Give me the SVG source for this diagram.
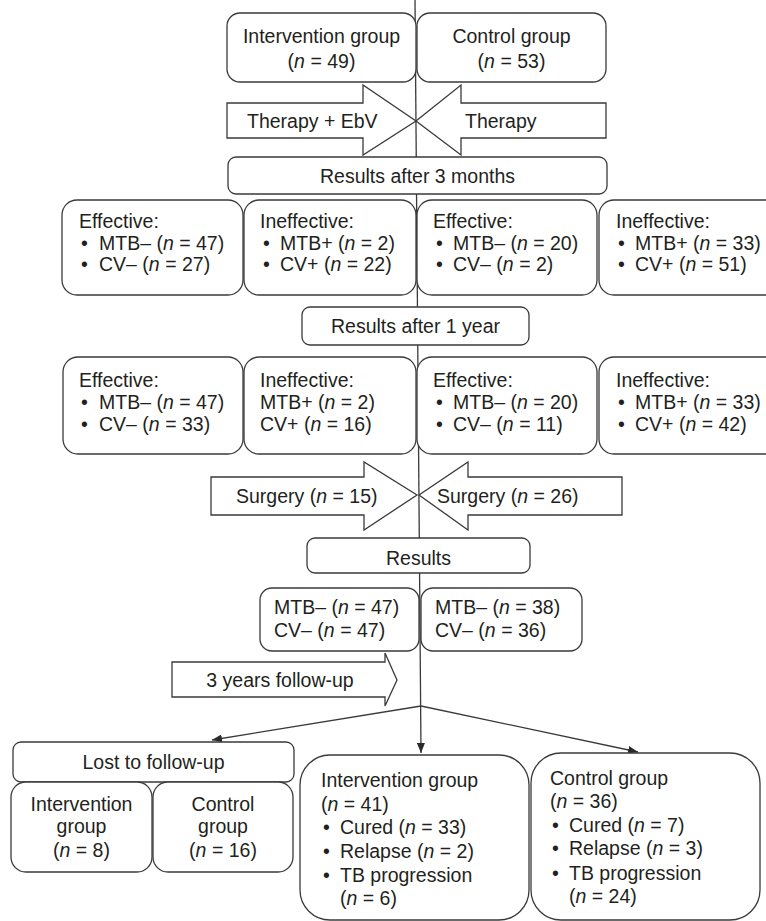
<svg xmlns="http://www.w3.org/2000/svg" width="766" height="921" viewBox="0 0 766 921">
<defs>
<style>
.b{fill:#fff;stroke:#3a3a3a;stroke-width:1.3}
.c{fill:none;stroke:#3a3a3a;stroke-width:1.3}
text{font-family:"Liberation Sans",Arial,sans-serif;font-size:19.5px;fill:#231f20}
.m{text-anchor:middle}
.i{font-style:italic}
</style>
<marker id="ah" viewBox="0 0 10 8" refX="10" refY="4" markerWidth="10" markerHeight="8" orient="auto" markerUnits="userSpaceOnUse"><path d="M0,0 L10,4 L0,8 z" fill="#2a2a2a"/></marker>
</defs>
<rect width="766" height="921" fill="#fff"/>
<g id="connectors">
<line class="c" x1="415" y1="0" x2="421" y2="753" marker-end="url(#ah)"/>
<line class="c" x1="421" y1="706" x2="212" y2="740" marker-end="url(#ah)"/>
<line class="c" x1="421" y1="706" x2="638" y2="752" marker-end="url(#ah)"/>
</g>
<g id="intervention-top"><rect class="b" x="227" y="13" width="189" height="69" rx="13"/><text class="m" x="321.5" y="43">Intervention group</text><text class="m" x="321.5" y="68">(<tspan class="i">n</tspan> = 49)</text></g>
<g id="control-top"><rect class="b" x="417" y="13" width="189" height="69" rx="13"/><text class="m" x="511.5" y="43">Control group</text><text class="m" x="511.5" y="68">(<tspan class="i">n</tspan> = 53)</text></g>
<g id="arrow-therapy-ebv"><polygon class="b" points="227,103 363,103 363,85 416,121 363,155 363,138 227,138"/><text x="247" y="128">Therapy + EbV</text></g>
<g id="arrow-therapy"><polygon class="b" points="606,103 461,103 461,85 416,121 461,155 461,138 606,138"/><text x="465" y="128">Therapy</text></g>
<g id="results-3m"><rect class="b" x="228" y="157" width="379" height="37" rx="8"/><text class="m" x="417.5" y="183">Results after 3 months</text></g>
<g id="r1-b1"><rect class="b" x="62" y="200" width="181" height="95" rx="15"/><text x="79" y="228">Effective:</text><text x="81" y="250">•</text><text x="99" y="250">MTB– (<tspan class="i">n</tspan> = 47)</text><text x="81" y="271">•</text><text x="99" y="271">CV– (<tspan class="i">n</tspan> = 27)</text></g>
<g id="r1-b2"><rect class="b" x="244" y="200" width="172" height="95" rx="15"/><text x="260" y="228">Ineffective:</text><text x="263" y="250">•</text><text x="280" y="250">MTB+ (<tspan class="i">n</tspan> = 2)</text><text x="263" y="271">•</text><text x="280" y="271">CV+ (<tspan class="i">n</tspan> = 22)</text></g>
<g id="r1-b3"><rect class="b" x="417" y="200" width="180" height="95" rx="15"/><text x="433" y="228">Effective:</text><text x="436" y="250">•</text><text x="453" y="250">MTB– (<tspan class="i">n</tspan> = 20)</text><text x="436" y="271">•</text><text x="453" y="271">CV– (<tspan class="i">n</tspan> = 2)</text></g>
<g id="r1-b4"><rect class="b" x="599" y="200" width="190" height="95" rx="15"/><text x="616" y="228">Ineffective:</text><text x="618" y="250">•</text><text x="635" y="250">MTB+ (<tspan class="i">n</tspan> = 33)</text><text x="618" y="271">•</text><text x="635" y="271">CV+ (<tspan class="i">n</tspan> = 51)</text></g>
<g id="results-1y"><rect class="b" x="302" y="307" width="227" height="38" rx="8"/><text class="m" x="415.5" y="333">Results after 1 year</text></g>
<g id="r2-b1"><rect class="b" x="63" y="357" width="180" height="97" rx="15"/><text x="79" y="387">Effective:</text><text x="81" y="409">•</text><text x="99" y="409">MTB– (<tspan class="i">n</tspan> = 47)</text><text x="81" y="431">•</text><text x="99" y="431">CV– (<tspan class="i">n</tspan> = 33)</text></g>
<g id="r2-b2"><rect class="b" x="244" y="357" width="172" height="97" rx="15"/><text x="260" y="387">Ineffective:</text><text x="260" y="409">MTB+ (<tspan class="i">n</tspan> = 2)</text><text x="260" y="431">CV+ (<tspan class="i">n</tspan> = 16)</text></g>
<g id="r2-b3"><rect class="b" x="417" y="357" width="180" height="97" rx="15"/><text x="433" y="387">Effective:</text><text x="436" y="409">•</text><text x="453" y="409">MTB– (<tspan class="i">n</tspan> = 20)</text><text x="436" y="431">•</text><text x="453" y="431">CV– (<tspan class="i">n</tspan> = 11)</text></g>
<g id="r2-b4"><rect class="b" x="599" y="357" width="190" height="97" rx="15"/><text x="616" y="387">Ineffective:</text><text x="618" y="409">•</text><text x="635" y="409">MTB+ (<tspan class="i">n</tspan> = 33)</text><text x="618" y="431">•</text><text x="635" y="431">CV+ (<tspan class="i">n</tspan> = 42)</text></g>
<g id="arrow-surgery-15"><polygon class="b" points="211,477 364,477 364,462 417,495 364,530 364,515 211,515"/><text x="236" y="503">Surgery (<tspan class="i">n</tspan> = 15)</text></g>
<g id="arrow-surgery-26"><polygon class="b" points="622,477 468,477 468,462 419,495 468,530 468,515 622,515"/><text x="437" y="503">Surgery (<tspan class="i">n</tspan> = 26)</text></g>
<g id="results"><rect class="b" x="307" y="538" width="223" height="35" rx="8"/><text class="m" x="418.5" y="565">Results</text></g>
<g id="res-left"><rect class="b" x="260" y="588" width="159" height="63" rx="12"/><text x="274" y="614">MTB– (<tspan class="i">n</tspan> = 47)</text><text x="274" y="637">CV– (<tspan class="i">n</tspan> = 47)</text></g>
<g id="res-right"><rect class="b" x="421" y="588" width="161" height="63" rx="12"/><text x="435" y="614">MTB– (<tspan class="i">n</tspan> = 38)</text><text x="435" y="637">CV– (<tspan class="i">n</tspan> = 36)</text></g>
<g id="arrow-followup"><polygon class="b" points="172,662 385,662 385,653 397,680 385,706 385,697 172,697"/><text class="m" x="280" y="687">3 years follow-up</text></g>
<g id="lost"><rect class="b" x="13" y="742" width="281" height="40" rx="8"/><text class="m" x="153.5" y="769">Lost to follow-up</text></g>
<g id="lost-int"><rect class="b" x="11" y="782" width="141" height="90" rx="15"/><text class="m" x="81.5" y="811">Intervention</text><text class="m" x="81.5" y="833">group</text><text class="m" x="81.5" y="857">(<tspan class="i">n</tspan> = 8)</text></g>
<g id="lost-ctl"><rect class="b" x="153" y="782" width="140" height="90" rx="15"/><text class="m" x="223" y="811">Control</text><text class="m" x="223" y="833">group</text><text class="m" x="223" y="857">(<tspan class="i">n</tspan> = 16)</text></g>
<g id="final-int"><rect class="b" x="300" y="755" width="229" height="165" rx="30"/><text x="321" y="787">Intervention group</text><text x="321" y="811">(<tspan class="i">n</tspan> = 41)</text><text x="323" y="834">•</text><text x="340" y="834">Cured (<tspan class="i">n</tspan> = 33)</text><text x="323" y="858">•</text><text x="340" y="858">Relapse (<tspan class="i">n</tspan> = 2)</text><text x="323" y="882">•</text><text x="340" y="882">TB progression</text><text x="340" y="905">(<tspan class="i">n</tspan> = 6)</text></g>
<g id="final-ctl"><rect class="b" x="531" y="753" width="229" height="167" rx="30"/><text x="550" y="785">Control group</text><text x="550" y="808">(<tspan class="i">n</tspan> = 36)</text><text x="552" y="832">•</text><text x="569" y="832">Cured (<tspan class="i">n</tspan> = 7)</text><text x="552" y="855">•</text><text x="569" y="855">Relapse (<tspan class="i">n</tspan> = 3)</text><text x="552" y="880">•</text><text x="569" y="880">TB progression</text><text x="569" y="903">(<tspan class="i">n</tspan> = 24)</text></g>
</svg>
